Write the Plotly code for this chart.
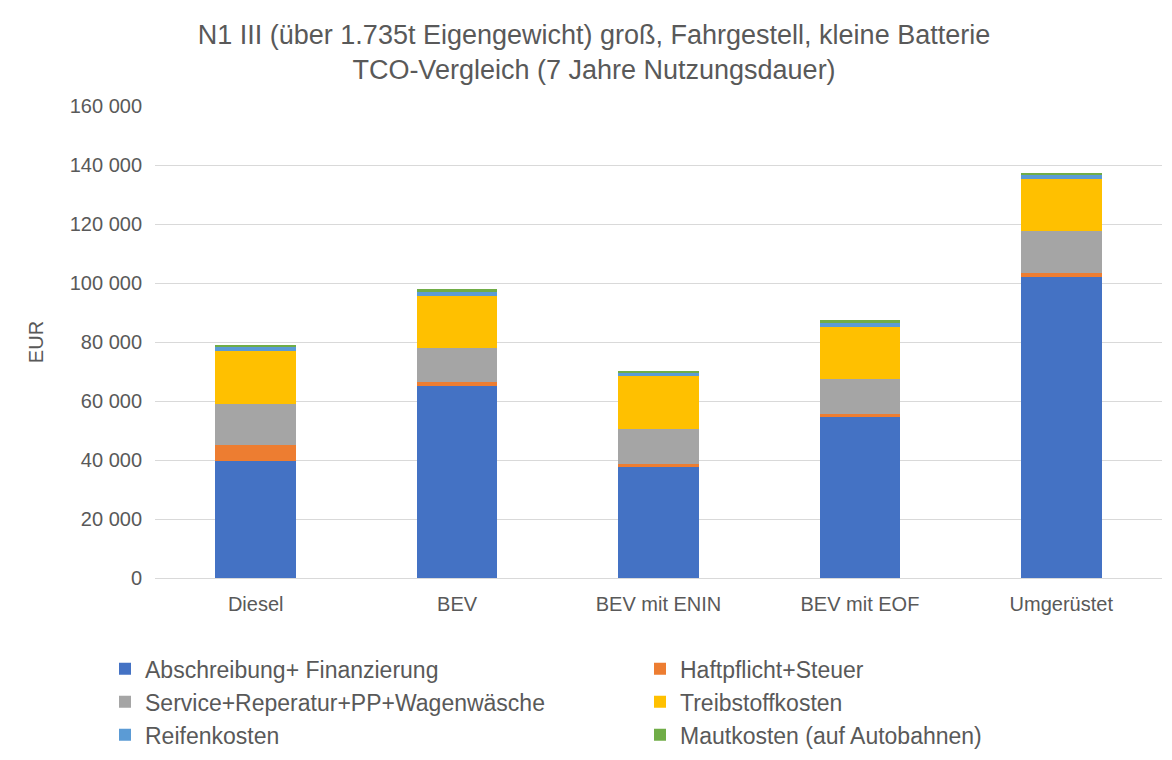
import plotly.graph_objects as go

categories = ["Diesel", "BEV", "BEV mit ENIN", "BEV mit EOF", "Umgerüstet"]
series_names = [
    "Abschreibung+ Finanzierung",
    "Haftpflicht+Steuer",
    "Service+Reperatur+PP+Wagenwäsche",
    "Treibstoffkosten",
    "Reifenkosten",
    "Mautkosten (auf Autobahnen)",
]
abschreibung = [39600, 65000, 37500, 54500, 102000]
haftpflicht = [5600, 1350, 1300, 1250, 1350]
service = [13800, 11700, 11700, 11600, 14300]
treibstoff = [18100, 17700, 17900, 17900, 17600]
reifen = [1200, 1350, 1200, 1350, 1200]
maut = [700, 700, 700, 700, 800]
series_values = [abschreibung, haftpflicht, service, treibstoff, reifen, maut]
colors = ["#4472C4", "#ED7D31", "#A5A5A5", "#FFC000", "#5B9BD5", "#70AD47"]
legend_ids = ["legend", "legend2", "legend", "legend2", "legend", "legend2"]

y_ticks = [0, 20000, 40000, 60000, 80000, 100000, 120000, 140000, 160000]

fig = go.Figure()
for name, vals, col, lg in zip(series_names, series_values, colors, legend_ids):
    fig.add_trace(go.Bar(x=categories, y=vals, name=name, legend=lg,
                         marker=dict(color=col, line=dict(width=0))))

W, H = 1172, 760
ML, MR, MT, MB = 147, 18, 98, 179
PW, PH = W - ML - MR, H - MT - MB
font_family = "Liberation Sans, Arial, sans-serif"
legend_common = dict(orientation="v", traceorder="normal",
                     y=-(652 - (H - MB)) / PH, yanchor="top",
                     font=dict(size=23, color="#595959", family=font_family),
                     itemwidth=30, bgcolor="rgba(0,0,0,0)", borderwidth=0)
fig.update_layout(
    barmode="stack",
    bargap=0.6,
    width=W,
    height=H,
    margin=dict(l=ML, r=MR, t=MT, b=MB),
    paper_bgcolor="white",
    plot_bgcolor="white",
    separators=", ",
    font=dict(family=font_family, color="#595959", size=20),
    title=dict(
        text="N1 III (über 1.735t Eigengewicht) groß, Fahrgestell, kleine Batterie<br>TCO-Vergleich (7 Jahre Nutzungsdauer)",
        x=0.5, xanchor="center", xref="container", yref="container", y=1 - 36 / H, yanchor="top",
        font=dict(size=27, color="#595959", family=font_family),
    ),
    xaxis=dict(showgrid=False, showline=True, linecolor="#d9d9d9", linewidth=1, automargin=False,
               tickfont=dict(size=20, color="#595959"), ticks="", ticklabelstandoff=8),
    yaxis=dict(range=[0, 160000], tickvals=y_ticks, tickformat=",d", automargin=False,
               showgrid=True, gridcolor="#d9d9d9", gridwidth=1, zeroline=False,
               tickfont=dict(size=20, color="#595959"), ticks="", ticklabelstandoff=12,
               title=dict(text="EUR", font=dict(size=20, color="#595959"), standoff=20)),
    legend=dict(x=(97 - ML) / PW, xanchor="left", **legend_common),
    legend2=dict(x=(632 - ML) / PW, xanchor="left", **legend_common),
    showlegend=True,
)
fig.write_html("out.html")
